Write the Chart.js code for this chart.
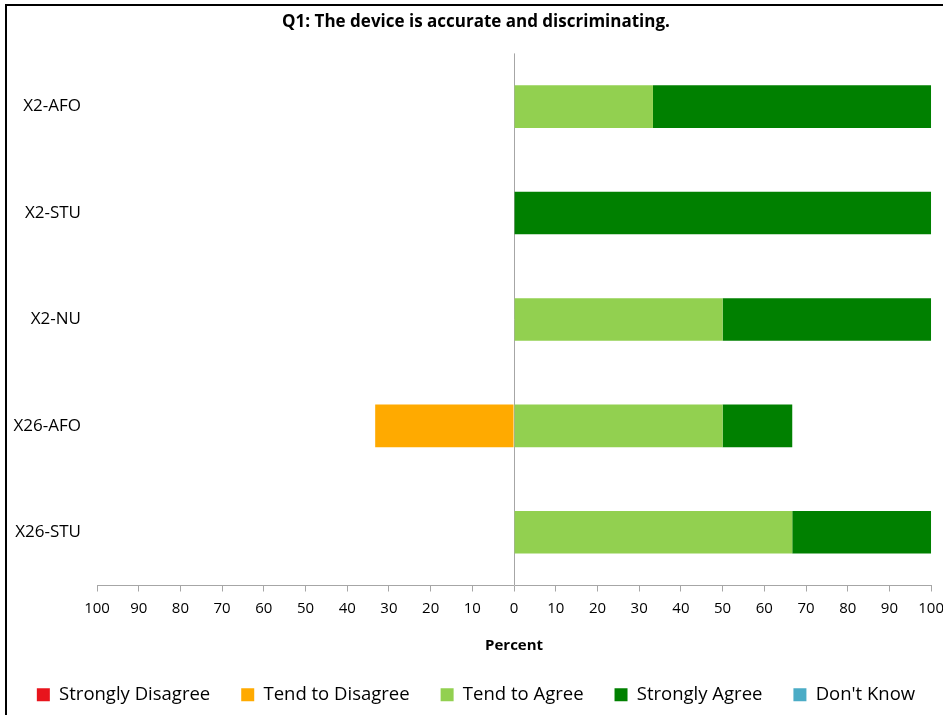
<!DOCTYPE html>
<html>
<head>
<meta charset="utf-8">
<script src="https://cdn.jsdelivr.net/npm/chart.js@4"></script>
<style>
  body { margin: 0; background: #fff; overflow: hidden; }
  #frame { position: absolute; left: 5px; top: 4px; width: 1000px; height: 1000px; border: 2px solid #000; box-sizing: border-box; }
  #wrap { position: absolute; left: 0; top: 0; width: 952px; height: 715px; }
</style>
</head>
<body>
<div id="frame"></div>
<div id="wrap"><canvas id="likertChart"></canvas></div>
<script>
// categories and answers (percent)
const groups = ['X2-AFO', 'X2-STU', 'X2-NU', 'X26-AFO', 'X26-STU'];
const stronglyDisagree = [0, 0, 0, 0, 0];
const tendToDisagree = [0, 0, 0, -33.3, 0];
const tendToAgree = [33.3, 0, 50, 50, 66.7];
const stronglyAgree = [66.7, 100, 50, 16.7, 33.3];
const dontKnow = [0, 0, 0, 0, 0];
const percentTicks = [-100, -90, -80, -70, -60, -50, -40, -30, -20, -10, 0, 10, 20, 30, 40, 50, 60, 70, 80, 90, 100];

const font = "'Open Sans', 'DejaVu Sans', sans-serif";
const ctx = document.getElementById('likertChart').getContext('2d');

function series(label, data, color) {
    return {
        label: label,
        data: data,
        backgroundColor: color,
        borderWidth: 0,
        categoryPercentage: 1,
        barPercentage: 0.4
    };
}

const chart = new Chart(ctx, {
    type: 'bar',
    data: {
        labels: groups,
        datasets: [
            series('Strongly Disagree', stronglyDisagree, '#e8141c'),
            series('Tend to Disagree', tendToDisagree, '#ffaa00'),
            series('Tend to Agree', tendToAgree, '#92d050'),
            series('Strongly Agree', stronglyAgree, '#008000'),
            series("Don't Know", dontKnow, '#4bacc6')
        ]
    },
    options: {
        indexAxis: 'y',
        responsive: true,
        maintainAspectRatio: false,
        animation: false,
        layout: { padding: { left: 0, right: 0, top: 0, bottom: 1 } },
        plugins: {
            title: {
                display: true,
                text: 'Q1: The device is accurate and discriminating.',
                color: '#000',
                font: { family: font, size: 17, weight: 'bold', lineHeight: 1.2 },
                padding: { top: 12, bottom: 21 }
            },
            legend: {
                position: 'bottom',
                labels: {
                    color: '#000',
                    font: { family: font, size: 18.5 },
                    boxWidth: 13,
                    boxHeight: 13,
                    padding: 31
                }
            },
            tooltip: { enabled: false }
        },
        scales: {
            x: {
                stacked: true,
                min: -100,
                max: 100,
                afterBuildTicks: scale => {
                    scale.ticks = percentTicks.map(v => ({ value: v }));
                },
                ticks: {
                    color: '#000',
                    font: { family: font, size: 15 },
                    padding: 8,
                    maxRotation: 0,
                    autoSkip: false,
                    callback: v => Math.abs(v)
                },
                grid: {
                    color: c => (c.tick && c.tick.value === 0 ? '#a6a6a6' : 'rgba(0,0,0,0)'),
                    tickColor: '#a6a6a6',
                    tickLength: 6
                },
                border: { display: true, color: '#a6a6a6' },
                title: {
                    display: true,
                    text: 'Percent',
                    color: '#000',
                    font: { family: font, size: 15, weight: 'bold' },
                    padding: { top: 11, bottom: 0 }
                }
            },
            y: {
                stacked: true,
                afterFit: scale => { scale.width = 97; },
                ticks: {
                    color: '#000',
                    font: { family: font, size: 17 },
                    padding: 16
                },
                grid: { display: false, drawTicks: false },
                border: { display: false }
            }
        }
    }
});
</script>
</body>
</html>
